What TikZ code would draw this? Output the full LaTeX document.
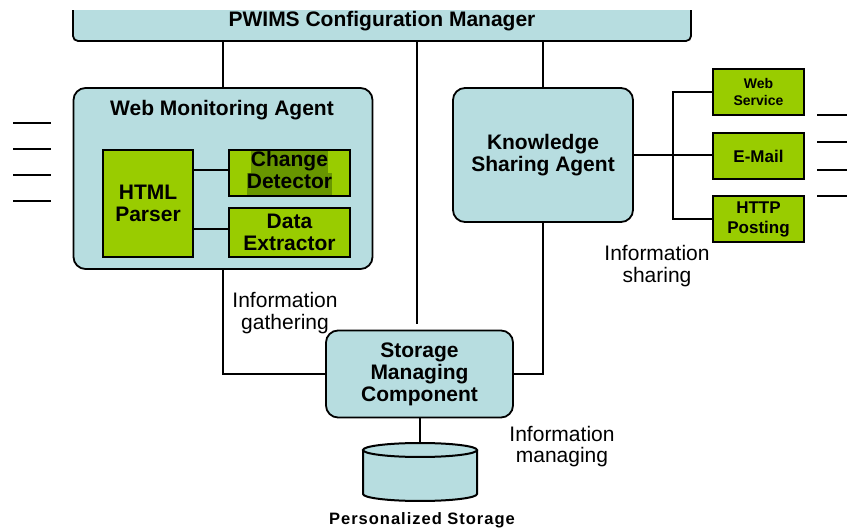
\documentclass[tikz,border=0pt]{standalone}
\usepackage{fontspec}
\setmainfont{Liberation Sans}
\newfontfamily\psfont[LetterSpace=6]{Liberation Sans}
\usepackage{xcolor}
\usepackage{tikz}

\definecolor{boxblue}{RGB}{183,221,224}
\definecolor{boxgreen}{RGB}{153,204,0}
\definecolor{markgreen}{RGB}{104,150,0}
\newcommand{\hilite}[1]{{\setlength{\fboxsep}{0pt}\colorbox{markgreen}{\strut #1}}}

\tikzset{
bluebox/.style={draw, fill=boxblue, rounded corners=12pt, line width=1.8pt, inner sep=0pt},
greenbox/.style={draw, fill=boxgreen, line width=1.8pt, inner sep=0pt, align=center, font=\bfseries\fontsize{21}{22}\selectfont},
bigtext/.style={font=\bfseries\fontsize{21}{22}\selectfont, align=center},
infotext/.style={font=\fontsize{21}{21.5}\selectfont, align=center},
wire/.style={line width=2pt}
}

\begin{document}
\begin{tikzpicture}[x=1pt, y=-1pt]
\useasboundingbox (0,0) rectangle (847,529);

\begin{scope}
\clip (0,11) rectangle (847,529);
\node[bluebox, rounded corners=5pt, minimum width=618pt, minimum height=39pt, bigtext] (cfgmgr) at (382,21.5) {PWIMS Configuration Manager};
\end{scope}

\node[bluebox, minimum width=299pt, minimum height=181pt] (wma) at (223,178.5) {};
\node[bigtext] (wmatitle) at (222,110) {Web Monitoring Agent};
\node[greenbox, minimum width=90pt, minimum height=107pt] (parser) at (148,203.5) {HTML\\Parser};
\node[greenbox, minimum width=121pt, minimum height=46pt] (chdet) at (289.5,173) {\hilite{Change}\\\hilite{Detector}};
\node[greenbox, minimum width=121pt, minimum height=49pt] (dext) at (289.5,232.5) {Data\\Extractor};
\draw[wire] (parser.east |- 0,170) -- ([yshift=3pt]chdet.west);
\draw[wire] (parser.east |- 0,229) -- ([yshift=3.5pt]dext.west);

\node[bluebox, minimum width=180pt, minimum height=134pt, bigtext] (ksa) at (543,155) {Knowledge\\Sharing Agent};
\node[greenbox, minimum width=91pt, minimum height=46pt, font=\bfseries\fontsize{14}{17}\selectfont] (websvc) at (758.5,92) {Web\\Service};
\node[greenbox, minimum width=91pt, minimum height=46pt, font=\bfseries\fontsize{17}{20}\selectfont] (email) at (758.5,156) {E-Mail};
\node[greenbox, minimum width=91pt, minimum height=46pt, font=\bfseries\fontsize{17}{20}\selectfont] (httppost) at (758.5,219) {HTTP\\Posting};

\node[bluebox, minimum width=187pt, minimum height=87pt, bigtext] (smc) at (419.5,374) {Storage\\Managing\\Component};

\draw[wire, fill=boxblue] (363,450) -- (363,494) arc[start angle=180, end angle=0, x radius=57, y radius=7] -- (477,450);
\draw[wire, fill=boxblue] (420,450) ellipse [x radius=57, y radius=7];
\coordinate (pstore) at (420,443);
\node[font=\psfont\bfseries\fontsize{16.5}{18}\selectfont] (pstorelbl) at (422,520) {Personalized Storage};

\draw[wire] (wma.north) -- (wma.north |- cfgmgr.south);
\draw[wire] (ksa.north) -- (ksa.north |- cfgmgr.south);
\draw[wire, shorten <=6pt] ([xshift=-2.5pt]smc.north) -- ([xshift=-2.5pt]smc.north |- cfgmgr.south);
\draw[wire] (wma.south) |- (smc.west);
\draw[wire] (ksa.south) |- (smc.east);
\draw[wire] ([xshift=0.5pt]smc.south) -- (pstore);
\draw[wire] (ksa.east) -- (ksa.east -| email.west);
\coordinate (fork) at (673,155);
\draw[wire] (websvc.west) -| (fork) |- (httppost.west);

\foreach \y in {123,149,175,201} \draw[wire] (13,\y) -- (51,\y);
\foreach \y in {115,142,170,196} \draw[wire] (817,\y) -- (847,\y);

\node[infotext] (gatherlbl) at (285,313) {Information\\gathering};
\node[infotext] (sharelbl) at (657,266) {Information\\sharing};
\node[infotext] (managelbl) at (562,446.5) {Information\\managing};

\end{tikzpicture}
\end{document}
